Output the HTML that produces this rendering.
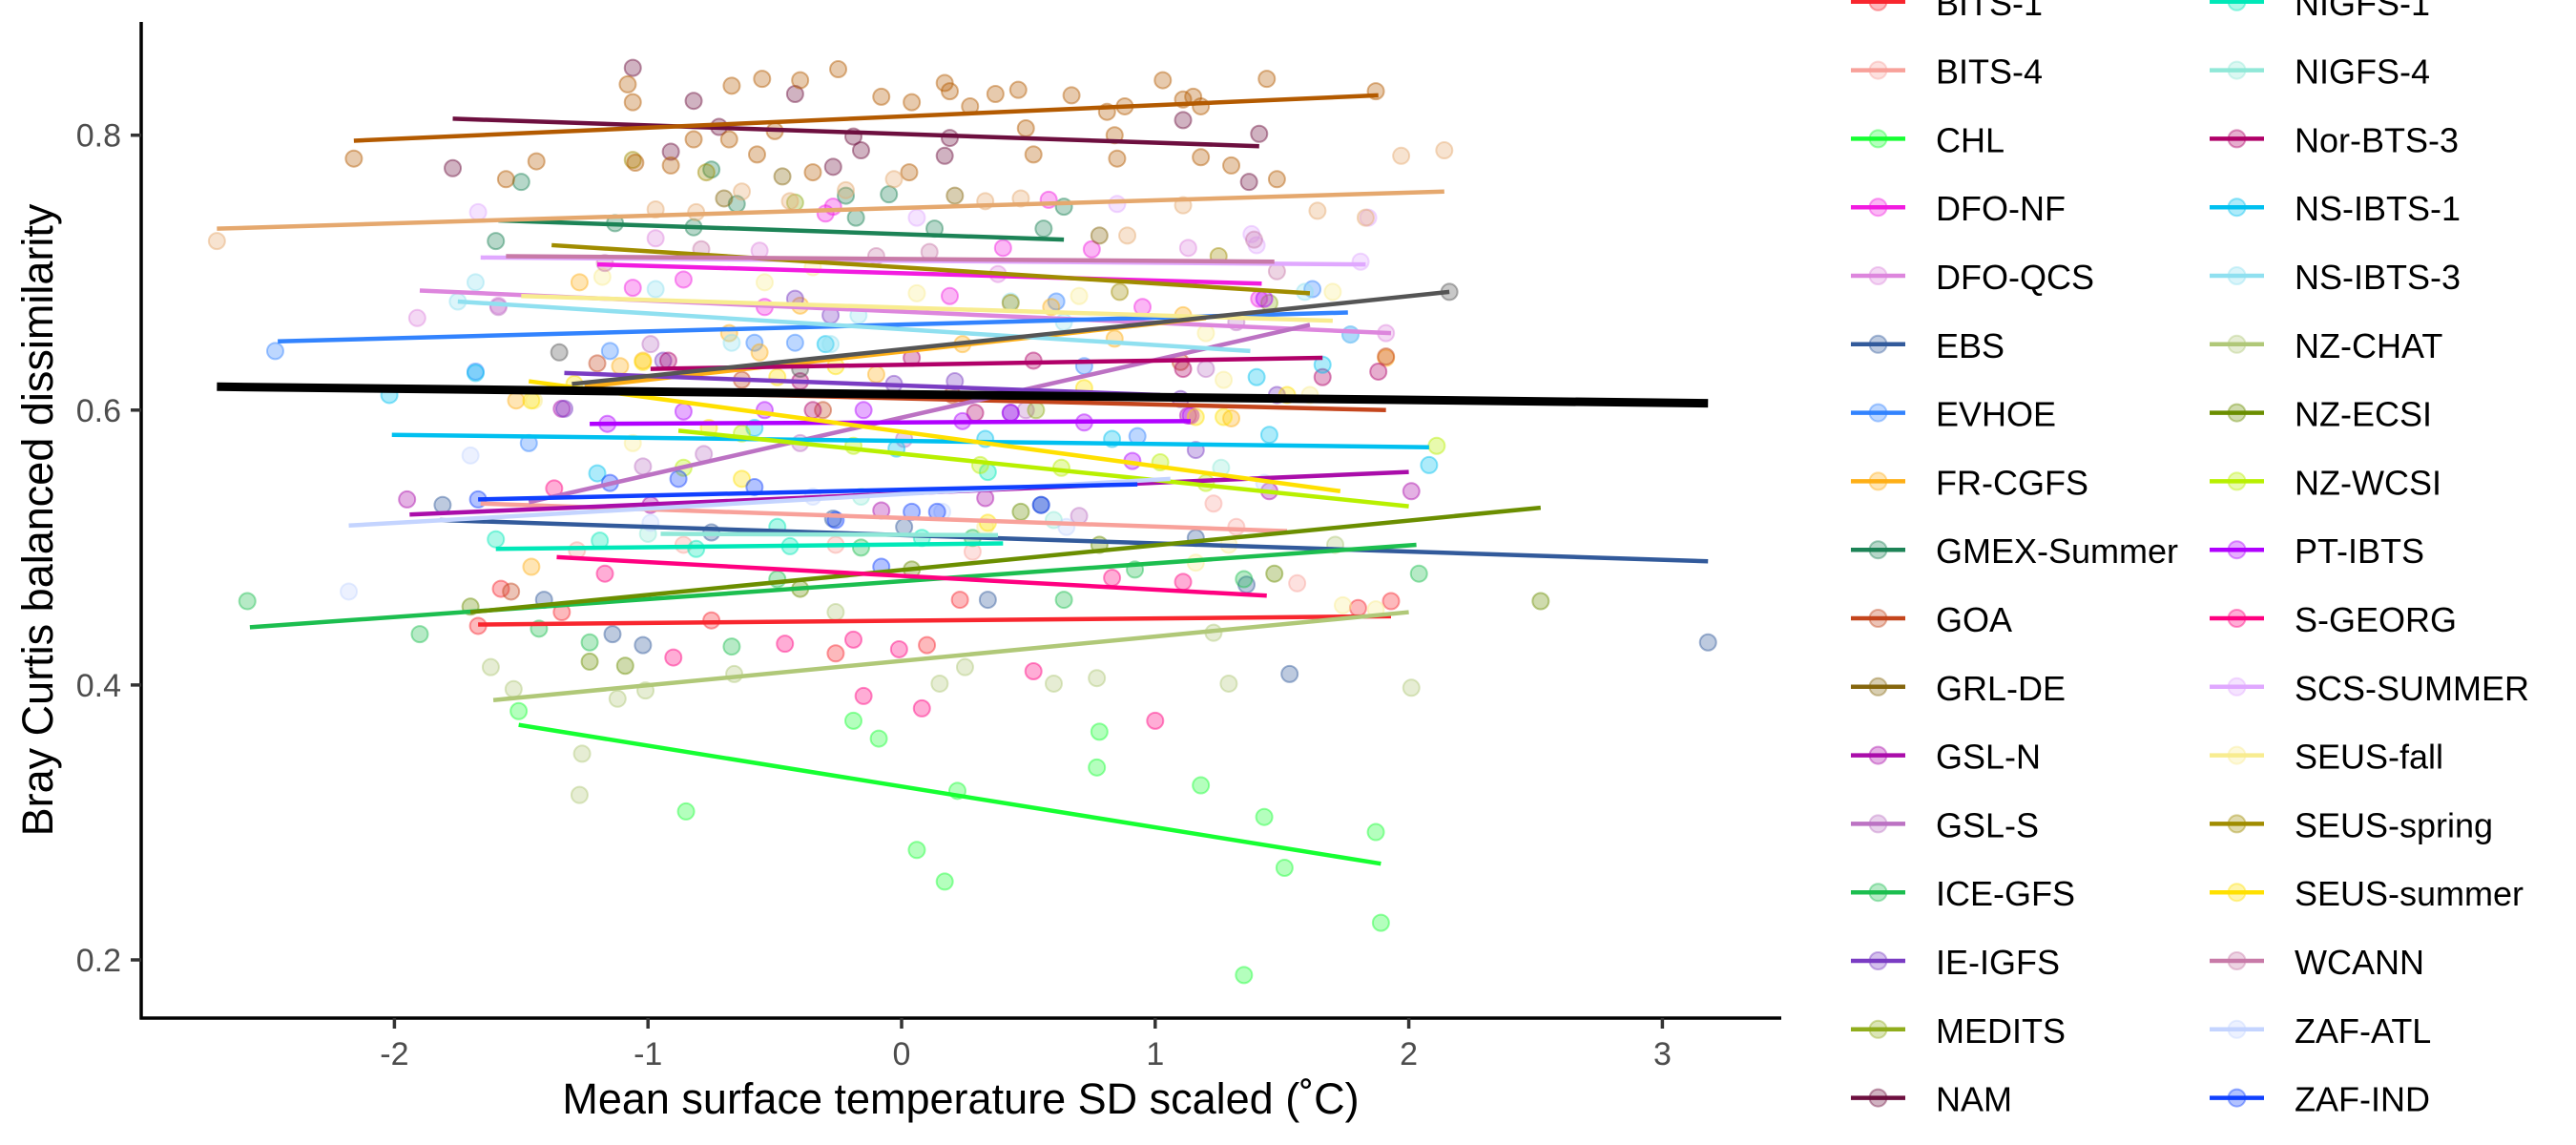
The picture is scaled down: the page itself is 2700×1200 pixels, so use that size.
<!DOCTYPE html>
<html><head><meta charset="utf-8"><title>Bray Curtis vs temperature SD</title>
<style>
html,body{margin:0;padding:0;background:#fff;}
svg{display:block;font-family:"Liberation Sans",Arial,sans-serif;}
</style></head>
<body>
<svg id="chart" width="2700" height="1200" viewBox="0 0 2700 1200" xmlns="http://www.w3.org/2000/svg">
  <g id="points"></g>
  <g id="lines"></g>
  <g id="axes"></g>
  <g id="legend"></g>
  <text x="1007" y="1167" font-size="45" text-anchor="middle" fill="#000">Mean surface temperature SD scaled (˚C)</text>
  <text transform="translate(55,545) rotate(-90)" font-size="45" text-anchor="middle" fill="#000">Bray Curtis balanced dissimilarity</text>
</svg>
<script>
const xTicks = [-2, -1, 0, 1, 2, 3];
const yTicks = [0.2, 0.4, 0.6, 0.8];
const yTickLabels = ["0.2", "0.4", "0.6", "0.8"];

const seriesNames = ["BITS-1","BITS-4","CHL","DFO-NF","DFO-QCS","EBS","EVHOE","FR-CGFS","GMEX-Summer","GOA","GRL-DE","GSL-N","GSL-S","ICE-GFS","IE-IGFS","MEDITS","NAM",
 "NIGFS-1","NIGFS-4","Nor-BTS-3","NS-IBTS-1","NS-IBTS-3","NZ-CHAT","NZ-ECSI","NZ-WCSI","PT-IBTS","S-GEORG","SCS-SUMMER","SEUS-fall","SEUS-spring","SEUS-summer","WCANN","ZAF-ATL","ZAF-IND",
 "extra-brown","extra-tan","extra-gray"];
const seriesColors = ["#F8262E","#F8A19A","#16FF32","#F21BE0","#DD86DD","#325A9B","#3283FE","#FEAF16","#1C8356","#C4451C","#85660D","#AA0DAA","#BC72C3","#1CBE4F","#7A3CC3","#90AD1C","#6D0F3F",
 "#00E8B8","#90E8D8","#B00068","#00C0F0","#90E0F0","#B0C878","#6B8E00","#B8F000","#B000FF","#FF0080","#E0A8FF","#F8EC90","#A08C00","#FFE000","#C87AA8","#C4D4FF","#1040FF",
 "#B35A00","#E5A86E","#555555"];
const legendCount = 34;

// regression line endpoints [x1, y1, x2, y2] in data units (null = none)
const lineEnds = [
 [-1.67,0.444,1.93,0.450],[-1.66,0.532,1.52,0.512],[-1.51,0.371,1.89,0.270],[-1.20,0.706,1.42,0.692],[-1.90,0.687,1.93,0.656],
 [-1.82,0.520,3.18,0.490],[-2.46,0.650,1.76,0.671],[-1.25,0.617,1.20,0.667],[-1.59,0.738,0.64,0.724],[-0.99,0.613,1.91,0.600],
 null,[-1.94,0.524,2.00,0.555],[-1.47,0.533,1.61,0.662],[-2.57,0.442,2.03,0.502],[-1.33,0.627,1.02,0.611],null,[-1.77,0.812,1.41,0.792],
 [-1.60,0.499,0.40,0.503],[-0.95,0.510,0.38,0.509],[-0.99,0.630,1.66,0.638],[-2.01,0.582,2.08,0.573],[-1.75,0.679,1.375,0.643],
 [-1.61,0.389,2.00,0.453],[-1.70,0.453,2.52,0.529],[-0.88,0.585,2.00,0.530],[-1.23,0.590,1.14,0.592],[-1.36,0.493,1.44,0.465],
 [-1.66,0.711,1.83,0.706],[-1.50,0.683,1.70,0.665],[-1.38,0.720,1.61,0.685],[-1.47,0.621,1.73,0.541],[-1.56,0.712,1.47,0.708],
 [-2.18,0.516,1.06,0.550],[-1.67,0.535,0.93,0.546],
 [-2.16,0.796,1.88,0.829],[-2.70,0.732,2.14,0.759],[-1.30,0.619,2.16,0.686]
];
const overallLine = [-2.70, 0.617, 3.18, 0.605];

const seriesPoints = [
 /*BITS-1*/[[-1.67,0.443],[-1.58,0.470],[-1.34,0.453],[-0.75,0.447],[-0.26,0.423],[0.23,0.462],[1.93,0.461],[1.80,0.456],[0.10,0.429]],
 /*BITS-4*/[[-1.28,0.498],[-0.86,0.502],[-0.26,0.502],[0.28,0.497],[1.23,0.532],[1.56,0.474],[1.32,0.515]],
 /*CHL*/[[-1.51,0.381],[-0.85,0.308],[-0.19,0.374],[-0.09,0.361],[0.06,0.280],[0.17,0.257],[0.22,0.323],[0.77,0.340],[0.78,0.366],[1.18,0.327],[1.43,0.304],[1.51,0.267],[1.87,0.293],[1.89,0.227],[1.35,0.189]],
 /*DFO-NF*/[[-0.30,0.743],[-0.27,0.748],[0.40,0.718],[0.75,0.717],[0.58,0.753],[-0.86,0.695],[-0.54,0.675],[0.95,0.675],[0.19,0.683],[-1.06,0.689],[1.41,0.681]],
 /*DFO-QCS*/[[-1.91,0.667],[-1.59,0.676],[-0.97,0.725],[-0.56,0.716],[1.13,0.718],[1.91,0.656],[0.38,0.699]],
 /*EBS*/[[-1.81,0.531],[-1.41,0.462],[-1.14,0.437],[-1.02,0.429],[-0.75,0.511],[-0.27,0.521],[0.01,0.515],[0.34,0.462],[0.55,0.531],[1.16,0.507],[1.36,0.473],[1.53,0.408],[3.18,0.431]],
 /*EVHOE*/[[-2.47,0.643],[-1.68,0.628],[-1.47,0.576],[-1.15,0.643],[-0.58,0.649],[-0.42,0.649],[0.61,0.679],[0.72,0.632],[0.93,0.581],[1.62,0.688],[1.77,0.655]],
 /*FR-CGFS*/[[-1.27,0.693],[-1.11,0.632],[-1.02,0.636],[-0.68,0.656],[-0.56,0.642],[-0.40,0.676],[-0.10,0.626],[0.24,0.648],[0.59,0.675],[0.84,0.652],[1.11,0.669],[1.91,0.638],[1.30,0.594],[-1.52,0.607],[-1.46,0.486]],
 /*GMEX*/[[-1.50,0.766],[-1.60,0.723],[-1.13,0.736],[-0.82,0.733],[-0.75,0.775],[-0.65,0.750],[-0.22,0.756],[-0.05,0.757],[0.13,0.732],[0.56,0.732],[0.64,0.748],[-0.18,0.740]],
 /*GOA*/[[-1.54,0.468],[-1.20,0.634],[-0.63,0.622],[-0.31,0.600],[0.20,0.611],[1.10,0.635],[1.91,0.639]],
 /*GRL-DE*/[[-0.47,0.770],[0.21,0.756],[0.78,0.727],[-0.70,0.754]],
 /*GSL-N*/[[-1.95,0.535],[-1.34,0.601],[-0.99,0.531],[-0.08,0.527],[0.33,0.536],[1.13,0.596],[2.01,0.541],[1.45,0.541]],
 /*GSL-S*/[[-1.02,0.559],[-0.78,0.568],[-0.40,0.576],[0.01,0.579],[0.49,0.600],[1.20,0.630],[1.32,0.664],[0.70,0.523],[-0.99,0.648],[-1.59,0.675]],
 /*ICE-GFS*/[[-2.58,0.461],[-1.90,0.437],[-1.43,0.441],[-1.23,0.431],[-0.67,0.428],[-0.49,0.477],[-0.16,0.500],[0.28,0.507],[0.64,0.462],[0.92,0.484],[1.35,0.477],[2.04,0.481]],
 /*IE-IGFS*/[[-1.33,0.601],[-0.94,0.636],[-0.42,0.681],[-0.28,0.669],[-0.03,0.619],[0.21,0.621],[0.43,0.598],[1.10,0.608],[1.48,0.611],[1.16,0.571]],
 /*MEDITS*/[[-0.42,0.751],[0.53,0.600],[1.45,0.678]],
 /*NAM*/[[-1.77,0.776],[-0.91,0.788],[-0.82,0.825],[-0.72,0.806],[-0.42,0.830],[-0.27,0.777],[-0.19,0.799],[-0.16,0.789],[0.17,0.785],[0.19,0.798],[1.11,0.811],[1.41,0.801],[1.37,0.766],[-1.06,0.849]],
 /*NIGFS-1*/[[-1.60,0.506],[-1.19,0.505],[-0.81,0.499],[-0.49,0.515],[0.08,0.507],[0.34,0.555],[-0.44,0.501]],
 /*NIGFS-4*/[[-0.16,0.537],[1.26,0.558],[-1.0,0.510],[0.6,0.520]],
 /*Nor-BTS-3*/[[1.11,0.630],[0.52,0.636],[0.04,0.638],[-0.35,0.600],[0.29,0.598],[1.66,0.624],[1.88,0.628],[-0.92,0.636],[-0.40,0.621]],
 /*NS-IBTS-1*/[[-2.02,0.611],[-1.68,0.627],[-1.20,0.554],[-0.58,0.587],[-0.30,0.648],[-0.02,0.572],[0.33,0.579],[0.83,0.579],[1.45,0.582],[1.40,0.624],[2.08,0.560],[1.66,0.633]],
 /*NS-IBTS-3*/[[-1.75,0.679],[-1.68,0.693],[-0.97,0.688],[-0.67,0.649],[-0.28,0.648],[-0.17,0.669],[0.43,0.679],[0.64,0.664],[1.59,0.686],[1.77,0.655]],
 /*NZ-CHAT*/[[-1.62,0.413],[-1.53,0.397],[-1.26,0.350],[-1.27,0.320],[-1.12,0.390],[-1.01,0.396],[-0.66,0.408],[-0.26,0.453],[0.15,0.401],[0.25,0.413],[0.60,0.401],[0.77,0.405],[1.23,0.438],[1.29,0.401],[2.01,0.398],[1.71,0.502]],
 /*NZ-ECSI*/[[-1.70,0.457],[-1.23,0.417],[-1.09,0.414],[-0.40,0.470],[0.04,0.484],[0.47,0.526],[0.78,0.502],[1.47,0.481],[2.52,0.461]],
 /*NZ-WCSI*/[[-0.86,0.558],[-0.63,0.583],[-0.19,0.574],[0.31,0.560],[0.63,0.558],[1.02,0.562],[1.20,0.547],[2.11,0.574]],
 /*PT-IBTS*/[[-1.16,0.590],[-0.86,0.599],[-0.54,0.600],[-0.15,0.600],[0.24,0.592],[0.43,0.598],[0.72,0.591],[0.91,0.563],[1.14,0.596],[1.43,0.681]],
 /*S-GEORG*/[[-1.37,0.543],[-1.17,0.481],[-0.90,0.420],[-0.46,0.430],[-0.19,0.433],[-0.01,0.426],[-0.15,0.392],[0.08,0.383],[0.52,0.410],[0.83,0.478],[1.00,0.374],[1.11,0.475]],
 /*SCS-SUMMER*/[[-1.67,0.744],[0.06,0.740],[0.85,0.750],[1.38,0.728],[1.81,0.708],[1.84,0.740],[1.40,0.720]],
 /*SEUS-fall*/[[-1.18,0.697],[-0.54,0.693],[-0.35,0.704],[0.06,0.685],[0.70,0.683],[1.20,0.656],[1.27,0.622],[1.61,0.611],[-1.45,0.607],[-1.06,0.576],[1.70,0.686],[0.33,0.515],[1.29,0.502],[1.74,0.458],[1.87,0.455],[1.16,0.489]],
 /*SEUS-spring*/[[-1.06,0.782],[-0.77,0.773],[1.25,0.712],[0.86,0.686],[0.43,0.678]],
 /*SEUS-summer*/[[-1.46,0.607],[-1.29,0.619],[-1.02,0.635],[-0.76,0.587],[-0.63,0.550],[-0.49,0.624],[-0.26,0.632],[0.34,0.518],[0.72,0.616],[1.27,0.595],[1.52,0.611],[1.16,0.595]],
 /*WCANN*/[[1.39,0.724],[1.48,0.701],[-0.10,0.712],[-0.79,0.717],[-1.17,0.707],[0.11,0.715]],
 /*ZAF-ATL*/[[-2.18,0.468],[-1.70,0.567],[-0.99,0.518],[-0.35,0.537],[0.16,0.526],[0.65,0.515],[1.43,0.547]],
 /*ZAF-IND*/[[-1.67,0.535],[-1.15,0.547],[-0.88,0.550],[-0.58,0.544],[-0.26,0.520],[0.04,0.526],[-0.08,0.486],[0.55,0.531],[0.14,0.526]],
 /*extra-brown*/[[-1.08,0.837],[-1.06,0.824],[-0.67,0.836],[-0.55,0.841],[-0.40,0.840],[-0.25,0.848],[-0.08,0.828],[0.04,0.824],[0.17,0.838],[0.19,0.832],[0.27,0.821],[0.37,0.830],[0.46,0.833],[0.49,0.805],[0.67,0.829],[0.81,0.817],[0.88,0.821],[1.03,0.840],[1.11,0.826],[1.15,0.828],[1.18,0.821],[1.44,0.841],[1.87,0.832],[-2.16,0.783],[-1.56,0.768],[-1.44,0.781],[-1.05,0.780],[-0.91,0.778],[-0.82,0.797],[-0.68,0.797],[-0.57,0.786],[-0.50,0.803],[-0.35,0.773],[0.03,0.773],[0.52,0.786],[0.84,0.800],[0.85,0.783],[1.18,0.784],[1.30,0.778],[1.48,0.768]],
 /*extra-tan*/[[-2.70,0.723],[1.97,0.785],[2.14,0.789],[-0.97,0.746],[-0.81,0.744],[-0.63,0.759],[-0.44,0.752],[-0.22,0.760],[-0.03,0.768],[0.33,0.752],[0.47,0.754],[0.89,0.727],[1.11,0.749],[1.64,0.745],[1.83,0.740]],
 /*extra-gray*/[[2.16,0.686],[-1.35,0.642],[-0.40,0.630]]
];

const NS = "http://www.w3.org/2000/svg";
const X0 = 148, X1 = 1867, Y0 = 1067, YTOP = 23;
function xScale(v){ return 945 + 265.8 * v; }
function yScale(v){ return 1006 - (v - 0.2) * 1440.5; }
function mk(tag, attrs, parent){ const e = document.createElementNS(NS, tag); for (const k in attrs) e.setAttribute(k, attrs[k]); parent.appendChild(e); return e; }

const gP = document.getElementById('points');
seriesPoints.forEach((pts, si) => {
  pts.forEach((p, pi) => {
    const c = mk('circle', {cx: xScale(p[0]), cy: yScale(p[1]), r: 8.5, fill: seriesColors[si], 'fill-opacity': 0.32, stroke: seriesColors[si], 'stroke-opacity': 0.45, 'stroke-width': 2}, gP);
    
    
  });
});

const gL = document.getElementById('lines');
lineEnds.forEach((l, si) => {
  if (!l) return;
  const ln = mk('line', {x1: xScale(l[0]), y1: yScale(l[1]), x2: xScale(l[2]), y2: yScale(l[3]), stroke: seriesColors[si], 'stroke-width': 4.5}, gL);
  
  
});
const ov = mk('line', {x1: xScale(overallLine[0]), y1: yScale(overallLine[1]), x2: xScale(overallLine[2]), y2: yScale(overallLine[3]), stroke: '#000', 'stroke-width': 9}, gL);



const gA = document.getElementById('axes');
const ya = mk('line', {x1: X0, y1: YTOP, x2: X0, y2: Y0 + 1.5, stroke: '#000', 'stroke-width': 3.5}, gA);


const xa = mk('line', {x1: X0 - 1.5, y1: Y0, x2: X1, y2: Y0, stroke: '#000', 'stroke-width': 3.5}, gA);


xTicks.forEach(t => {
  const x = xScale(t);
  const tk = mk('line', {x1: x, y1: Y0, x2: x, y2: Y0 + 11, stroke: '#333', 'stroke-width': 3.5}, gA);
  
  
  const tx = mk('text', {x: x, y: 1116, 'font-size': 34, fill: '#4d4d4d', 'text-anchor': 'middle'}, gA);
  tx.textContent = String(t);
  
  
});
yTicks.forEach((t, i) => {
  const y = yScale(t);
  const tk = mk('line', {x1: X0 - 11, y1: y, x2: X0, y2: y, stroke: '#333', 'stroke-width': 3.5}, gA);
  
  
  const tx = mk('text', {x: 127, y: y + 12, 'font-size': 34, fill: '#4d4d4d', 'text-anchor': 'end'}, gA);
  tx.textContent = yTickLabels[i];
  
  
});

const gG = document.getElementById('legend');
for (let i = 0; i < legendCount; i++) {
  const col = i < 17 ? 0 : 1, row = i % 17;
  const kx = col === 0 ? 1940 : 2316, y = 1.8 + 71.8 * row;
  const g = mk('g', {}, gG);
  
  
  mk('line', {x1: kx, y1: y, x2: kx + 57, y2: y, stroke: seriesColors[i], 'stroke-width': 4.5}, g);
  mk('circle', {cx: kx + 28.5, cy: y, r: 9, fill: seriesColors[i], 'fill-opacity': 0.32, stroke: seriesColors[i], 'stroke-opacity': 0.4, 'stroke-width': 2}, g);
  const t = mk('text', {x: kx + 89, y: y + 14, 'font-size': 36, fill: '#000'}, g);
  t.textContent = seriesNames[i];
}
</script>
</body></html>
